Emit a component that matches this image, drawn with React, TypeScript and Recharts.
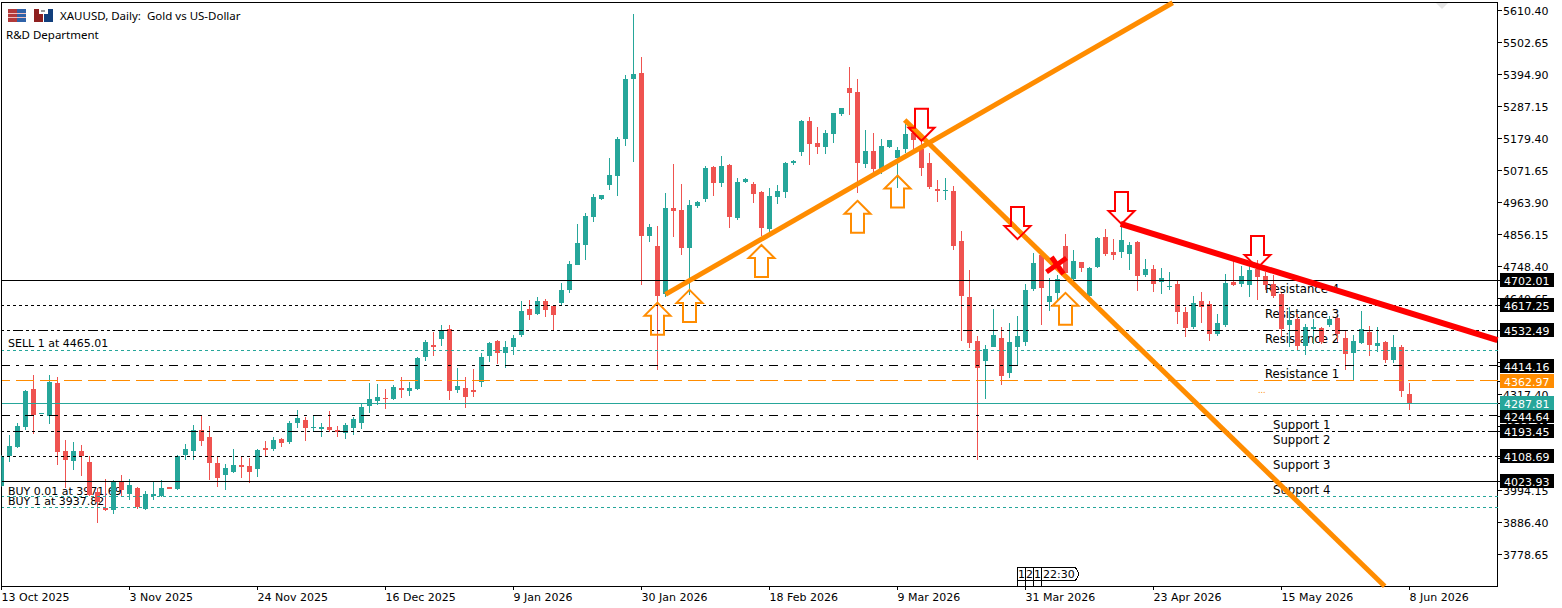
import React from 'react';
import { ComposedChart, Bar, XAxis, YAxis, ReferenceLine, ReferenceDot, Customized } from 'recharts';

const opens = [4007,4110,4140,4207,4335,4251,4243,4355,4127,4093,4127,4089,3988,3936,3928,4022,3982,4002,3930,3976,3975,4004,3999,4113,4127,4197,4174,4086,4046,4056,4079,4076,4066,4135,4133,4167,4157,4221,4231,4204,4201,4207,4196,4187,4204,4221,4278,4295,4305,4302,4339,4329,4335,4443,4483,4504,4537,4332,4339,4332,4359,4446,4497,4457,4477,4517,4605,4588,4632,4615,4624,4669,4753,4820,4914,4975,5022,5052,5177,5379,5399,4852,4817,4655,4945,4938,4810,4951,4975,5083,5029,5089,4911,5033,5025,4999,4874,4982,4999,5096,5133,5238,5164,5150,5194,5261,5349,5335,5093,5137,5076,5150,5113,5143,5196,5143,5096,5009,5003,5002,4834,4645,4497,4430,4477,4507,4389,4477,4494,4672,4787,4628,4659,4817,4706,4763,4648,4746,4847,4797,4797,4790,4830,4719,4739,4697,4680,4689,4595,4544,4632,4622,4520,4551,4696,4689,4686,4738,4716,4689,4655,4551,4571,4480,4537,4541,4551,4574,4507,4457,4490,4527,4480,4494,4433,4477,4319];
const highs = [4112,4180,4222,4332,4382,4253,4382,4376,4164,4157,4147,4110,4001,4032,4029,4046,4032,4004,3992,4022,4029,4006,4113,4150,4214,4243,4211,4107,4083,4133,4110,4103,4133,4160,4174,4170,4228,4265,4241,4243,4221,4261,4211,4221,4241,4285,4355,4352,4335,4349,4376,4359,4443,4500,4527,4551,4551,4406,4376,4403,4457,4494,4500,4497,4517,4632,4635,4645,4639,4618,4692,4766,4891,4928,4992,4990,5113,5184,5393,5598,5453,4891,4884,4995,5093,5025,4972,4967,5086,5085,5120,5093,5046,5046,5032,5002,5012,5022,5100,5106,5241,5251,5217,5207,5266,5282,5419,5379,5207,5197,5177,5175,5150,5228,5210,5174,5130,5039,5046,5019,4867,4736,4514,4483,4605,4544,4558,4581,4689,4793,4790,4709,4719,4857,4803,4764,4746,4847,4874,4840,4888,4830,4834,4773,4753,4743,4729,4699,4611,4648,4662,4632,4588,4722,4766,4749,4753,4770,4729,4719,4657,4613,4588,4554,4571,4544,4581,4578,4534,4517,4598,4548,4544,4497,4517,4484,4356];
const lows = [4004,4090,4135,4197,4184,4251,4217,4079,4001,4063,4042,3976,3884,3925,3914,3973,3962,3930,3928,3962,3971,3997,3995,4096,4096,4143,4029,4005,3995,4052,4036,4020,4039,4110,4127,4140,4150,4204,4160,4194,4174,4191,4174,4167,4180,4201,4254,4281,4268,4298,4305,4310,4333,4430,4446,4480,4298,4322,4271,4308,4342,4426,4420,4406,4450,4510,4568,4585,4578,4533,4617,4659,4753,4770,4898,4973,5005,4985,5153,5100,4685,4830,4399,4645,4848,4786,4652,4945,4965,4985,5015,4877,4904,5029,4962,4850,4864,4958,4978,5089,5120,5089,5127,5127,5164,5255,5258,4995,5079,5066,5059,5147,5012,5130,5143,5052,5009,4965,4972,4803,4497,4473,4096,4302,4475,4349,4372,4416,4480,4665,4551,4598,4635,4719,4702,4729,4646,4743,4783,4770,4776,4736,4665,4712,4662,4655,4669,4554,4511,4537,4558,4497,4514,4544,4682,4679,4645,4635,4669,4642,4510,4478,4463,4450,4487,4487,4544,4494,4399,4366,4487,4447,4460,4423,4423,4309,4265];
const closes = [4110,4143,4211,4330,4248,4253,4359,4123,4096,4127,4110,3978,3955,3927,4025,3995,4012,3937,3982,3982,4002,4000,4110,4133,4197,4160,4086,4036,4069,4079,4074,4056,4130,4130,4164,4153,4221,4238,4204,4207,4207,4197,4192,4214,4234,4275,4302,4308,4302,4342,4332,4339,4440,4494,4478,4531,4329,4345,4308,4326,4443,4490,4457,4477,4507,4598,4585,4632,4602,4585,4669,4756,4827,4918,4982,4988,5056,5177,5379,5396,4850,4881,4648,4945,4935,4810,4955,4965,5079,5029,5086,4914,5032,5042,4992,4877,4985,5002,5096,5103,5238,5160,5150,5197,5265,5281,5332,5096,5137,5076,5153,5174,5140,5194,5174,5079,5015,5003,5005,4817,4648,4490,4406,4470,4517,4379,4494,4514,4669,4760,4675,4648,4706,4725,4766,4743,4743,4844,4790,4787,4837,4820,4716,4739,4689,4709,4682,4595,4541,4625,4611,4520,4558,4692,4684,4716,4736,4712,4686,4648,4537,4568,4480,4544,4544,4494,4571,4520,4453,4497,4537,4484,4490,4433,4477,4329,4287.81];

const xLabels = ['13 Oct 2025','3 Nov 2025','24 Nov 2025','16 Dec 2025','9 Jan 2026','30 Jan 2026','18 Feb 2026','9 Mar 2026','31 Mar 2026','23 Apr 2026','15 May 2026','8 Jun 2026'];
const xTicks = [0,16,32,48,64,80,96,112,128,144,160,176];
const yTicks = [5610.40,5502.65,5394.90,5287.15,5179.40,5071.65,4963.90,4856.15,4748.40,4640.65,4532.90,4425.15,4317.40,4209.65,4101.90,3994.15,3886.40,3778.65];

const levelPrices = [4702.01,4617.25,4532.49,4414.16,4244.64,4193.45,4108.69,4023.93];
const levelDashes = ['', '3 3', '10 3 3 3 3 3', '9 6 3 6', '9 6 3 6', '10 3 3 3 3 3', '3 3', ''];
const orderPrices = [4465.01,3971.69,3937.82];
const pendingPrice = 4362.97;
const lastPrice = 4287.81;

const upArrows = [{ i: 82, p: 4626 },{ i: 86, p: 4669 },{ i: 95, p: 4820 },{ i: 107, p: 4969 },{ i: 112, p: 5054 },{ i: 133, p: 4659 }];
const downArrows = [{ i: 115, p: 5171 },{ i: 127, p: 4840 },{ i: 140, p: 4891 },{ i: 157, p: 4743 }];
const crossMark = { i: 132, p: 4753 };
const orangeUp = [{ x: 83, y: 4654 },{ x: 146.4, y: 5636 }];
const orangeDown = [{ x: 112.9, y: 5241 },{ x: 172.9, y: 3671 }];
const redDown = [{ x: 139.9, y: 4891 },{ x: 187, y: 4500 }];

const noteLabels = [
  { t: 'Resistance 4', x: 1265, y: 288 },{ t: 'Resistance 3', x: 1265, y: 313 },{ t: 'Resistance 2', x: 1265, y: 338 },{ t: 'Resistance 1', x: 1265, y: 373 },
  { t: 'Support 1', x: 1273, y: 424 },{ t: 'Support 2', x: 1273, y: 439 },{ t: 'Support 3', x: 1273, y: 464 },{ t: 'Support 4', x: 1273, y: 489 },
];
const orderLabels = [
  { t: 'SELL 1 at 4465.01', x: 8, y: 343 },{ t: 'BUY 0.01 at 3971.69', x: 8, y: 491 },{ t: 'BUY 1 at 3937.82', x: 8, y: 501 },
];

const rows = opens.map((o, i) => ({ i, open: o, high: highs[i], low: lows[i], close: closes[i] }));
const UP = '#26A69A', DOWN = '#EF5350', ORANGE = '#FF8C00', RED = '#FF0000';
const FONT = '"DejaVu Sans", sans-serif';
const MARGIN = { top: 2.5, left: 1.5, right: 0.5, bottom: 0.5 };
const X_DOMAIN: [number, number] = [0, 187];
const Y_DOMAIN: [number, number] = [3670.2, 5636.7];

const Candle = (props: any) => {
  const { x, y, width, height, payload } = props;
  const { high, low, open, close } = payload;
  const cx = Math.round(x + width / 2 - 0.5);
  const px = (v: number) => y + ((high - v) / (high - low)) * height;
  const top = Math.round(px(Math.max(open, close)));
  const bot = Math.round(px(Math.min(open, close)));
  const c = close >= open ? UP : DOWN;
  return (
    <g shapeRendering="crispEdges">
      <rect x={cx} y={Math.round(y)} width={1} height={Math.max(1, Math.round(y + height) - Math.round(y))} fill={c} />
      <rect x={cx - 2} y={top} width={5} height={Math.max(1, bot - top)} fill={c} />
    </g>
  );
};

const UpArrow = (props: any) => {
  const { cx, cy } = props;
  const d = `M${cx} ${cy} L${cx + 13} ${cy + 13} L${cx + 6.5} ${cy + 13} L${cx + 6.5} ${cy + 32} L${cx - 6.5} ${cy + 32} L${cx - 6.5} ${cy + 13} L${cx - 13} ${cy + 13} Z`;
  return <path d={d} fill="none" stroke={ORANGE} strokeWidth={2} />;
};
const DownArrow = (props: any) => {
  const { cx, cy } = props;
  const d = `M${cx} ${cy} L${cx + 13} ${cy - 13} L${cx + 6.5} ${cy - 13} L${cx + 6.5} ${cy - 32} L${cx - 6.5} ${cy - 32} L${cx - 6.5} ${cy - 13} L${cx - 13} ${cy - 13} Z`;
  return <path d={d} fill="none" stroke={RED} strokeWidth={2} />;
};
const Cross = (props: any) => {
  const { cx, cy } = props;
  return (
    <g stroke={RED} strokeWidth={5} fill="none">
      <line x1={cx - 11} y1={cy + 7} x2={cx + 9} y2={cy - 7} />
      <line x1={cx - 6} y1={cy - 8} x2={cx + 6} y2={cy + 9} />
    </g>
  );
};

const priceTag = (text: string, bg: string) => (props: any) => {
  const y = Math.round(props.viewBox?.y ?? 0);
  return (
    <g>
      <line x1={1498} x2={1500} y1={y + 0.5} y2={y + 0.5} stroke="#000" shapeRendering="crispEdges" />
      <rect x={1500} y={y - 7} width={54} height={14} fill={bg} shapeRendering="crispEdges" />
      <text x={1504} y={y + 4.5} fill="#fff" fontSize={11} fontFamily={FONT}>{text}</text>
    </g>
  );
};

const YTick = (props: any) => {
  const { y, payload } = props;
  return (
    <g>
      <line x1={1498} x2={1502} y1={Math.round(y) + 0.5} y2={Math.round(y) + 0.5} stroke="#000" shapeRendering="crispEdges" />
      <text x={1503} y={y + 4.5} fill="#000" fontSize={11} fontFamily={FONT}>{payload.value.toFixed(2)}</text>
    </g>
  );
};
const XTick = (props: any) => {
  const { x, payload } = props;
  const lx = Math.round(x - 0.5) + 0.5;
  return (
    <g>
      <line x1={lx} x2={lx} y1={587} y2={590} stroke="#000" shapeRendering="crispEdges" />
      <text x={lx} y={601} fill="#000" fontSize={11} fontFamily={FONT}>{xLabels[xTicks.indexOf(payload.value)]}</text>
    </g>
  );
};

const Underlay = () => (
  <g>
    {orderLabels.map((l) => (
      <text key={l.t} x={l.x} y={l.y + 4} fontSize={11} fontFamily={FONT} fill="#000">{l.t}</text>
    ))}
  </g>
);

const Overlay = () => (
  <g>
    <rect x={1.5} y={2.5} width={1496} height={584} fill="none" stroke="#000" shapeRendering="crispEdges" />
    <path d="M1436 3 L1448 3 L1442 9 Z" fill="#e6e6e6" />
    <g shapeRendering="crispEdges">
      <rect x={8} y={9} width={9} height={13} fill="#b23a3a" />
      <rect x={17} y={9} width={9} height={13} fill="#2f62a8" />
      <rect x={8} y={13} width={18} height={1} fill="#f0c0c0" />
      <rect x={8} y={17} width={18} height={1} fill="#f0c0c0" />
      <rect x={34} y={9} width={9} height={13} fill="#8e2020" />
      <rect x={44} y={9} width={9} height={13} fill="#123f7c" />
      <rect x={39} y={9} width={9} height={5} fill="#fff" />
      <rect x={41} y={10} width={4} height={2} fill="#999" />
    </g>
    <text x={60} y={20} fontSize={11.5} fontFamily='"Noto Sans", sans-serif' fill="#000" style={{ whiteSpace: 'pre' }}>XAUUSD, Daily:  Gold vs US-Dollar</text>
    <text x={6} y={39} fontSize={11.5} fontFamily='"Noto Sans", sans-serif' fill="#000">R&amp;D Department</text>
    {noteLabels.map((l) => (
      <text key={l.t} x={l.x} y={l.y + 4.5} fontSize={11.7} fontFamily={FONT} fill="#000">{l.t}</text>
    ))}
    <text x={1258} y={393} fontSize={8} fontFamily={FONT} fill={ORANGE}>...</text>
    <g fill="none" stroke="#000" shapeRendering="crispEdges">
      <path d="M1017.5 586 L1017.5 567.5 L1075.5 567.5 L1079 574 L1075.5 580.5 L1017.5 580.5" />
      <path d="M1025.5 590 L1025.5 567.5 M1033.5 586 L1033.5 567.5 M1041.5 586 L1041.5 567.5" />
    </g>
    <g fontSize={11} fontFamily={FONT} fill="#000">
      <text x={1018} y={578}>1</text>
      <text x={1026} y={578}>2</text>
      <text x={1034} y={578}>1</text>
      <text x={1043} y={578}>22:30</text>
    </g>
  </g>
);

export default function App() {
  return (
    <div style={{ position: 'absolute', left: 0, top: 0, width: 1562, height: 608, background: '#fff' }}>
      <ComposedChart width={1562} height={608} data={rows} margin={MARGIN}>
        <XAxis dataKey="i" type="number" domain={X_DOMAIN} ticks={xTicks} interval={0} height={21} tickLine={false} axisLine={false} tick={<XTick />} allowDataOverflow />
        <YAxis orientation="right" type="number" domain={Y_DOMAIN} ticks={yTicks} interval={0} width={64} tickLine={false} axisLine={false} tick={<YTick />} allowDataOverflow />
        <Customized component={Underlay} />
        <Bar dataKey={(d: any) => [d.low, d.high]} barSize={5} shape={<Candle />} isAnimationActive={false} />
        {orderPrices.map((p) => (
          <ReferenceLine key={p} y={p} stroke={UP} strokeDasharray="3 3" shapeRendering="crispEdges" />
        ))}
        {levelPrices.map((p, k) => (
          <ReferenceLine key={p} y={p} stroke="#000" strokeDasharray={levelDashes[k] || undefined} shapeRendering="crispEdges" />
        ))}
        <ReferenceLine y={pendingPrice} stroke={ORANGE} strokeDasharray="18 6" shapeRendering="crispEdges" />
        <ReferenceLine y={lastPrice} stroke={UP} shapeRendering="crispEdges" />
        <ReferenceLine segment={orangeUp} stroke={ORANGE} strokeWidth={5} ifOverflow="visible" />
        <ReferenceLine segment={orangeDown} stroke={ORANGE} strokeWidth={5} ifOverflow="visible" />
        <ReferenceLine segment={redDown} stroke={RED} strokeWidth={6} ifOverflow="visible" />
        {upArrows.map((a) => (
          <ReferenceDot key={a.i} x={a.i} y={a.p} ifOverflow="visible" shape={<UpArrow />} />
        ))}
        {downArrows.map((a) => (
          <ReferenceDot key={a.i} x={a.i} y={a.p} ifOverflow="visible" shape={<DownArrow />} />
        ))}
        <ReferenceDot x={crossMark.i} y={crossMark.p} ifOverflow="visible" shape={<Cross />} />
        <Customized component={Overlay} />
      </ComposedChart>
      <div style={{ position: 'absolute', left: 0, top: 0, width: 1562, height: 608 }}>
        <ComposedChart width={1562} height={608} data={rows} margin={MARGIN}>
          <XAxis dataKey="i" type="number" domain={X_DOMAIN} height={21} tick={false} tickLine={false} axisLine={false} allowDataOverflow />
          <YAxis orientation="right" type="number" domain={Y_DOMAIN} width={64} tick={false} tickLine={false} axisLine={false} allowDataOverflow />
          {levelPrices.map((p) => (
            <ReferenceLine key={p} y={p} stroke="none" label={priceTag(p.toFixed(2), '#000')} />
          ))}
          <ReferenceLine y={pendingPrice} stroke="none" label={priceTag(pendingPrice.toFixed(2), ORANGE)} />
          <ReferenceLine y={lastPrice} stroke="none" label={priceTag(lastPrice.toFixed(2), UP)} />
        </ComposedChart>
      </div>
    </div>
  );
}
